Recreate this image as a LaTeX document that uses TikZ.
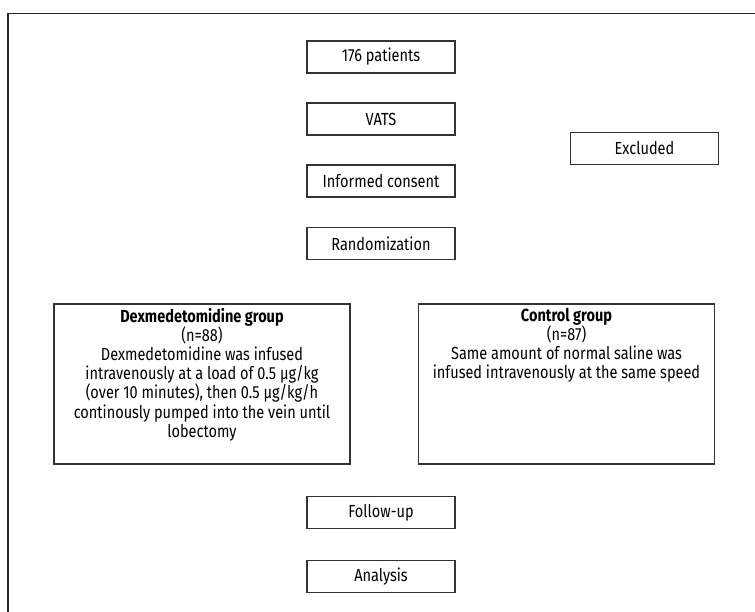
\documentclass[tikz,border=0pt]{standalone}
\usepackage{fontspec}
\setmainfont[FakeStretch=0.83]{Fira Sans}
\usepackage{tikz}
\usetikzlibrary{positioning}
\newcommand*{\grouptext}[1]{\parbox[c][152pt][t]{290pt}{\centering #1}}

\begin{document}
\begin{tikzpicture}[x=1pt,y=-1pt,
  box/.style={draw=black!80,line width=1.1pt,minimum width=148pt,
    minimum height=32pt,inner sep=0pt,font=\fontsize{17.5}{19.2}\selectfont},
  groupbox/.style={box,minimum width=296pt,minimum height=160pt}]
\useasboundingbox (0,0) rectangle (755,612);
\draw[black!85,line width=1.3pt] (8,612) -- (8,13.5) -- (755,13.5);

\node[box] (patients) at (381,57) {176 patients};
\node[box] (vats) at (381,119) {VATS};
\node[box] (consent) at (381,181) {Informed consent};
\node[box] (random) at (381,243.5) {Randomization};
\node[box] (excluded) at (644.5,148.5) {Excluded};

\node[groupbox] (dex) at (202,384) {\grouptext{\textbf{Dexmedetomidine group}\\
  (n=88)\\
  Dexmedetomidine was infused\\
  intravenously at a load of 0.5 µg/kg\\
  (over 10 minutes), then 0.5 µg/kg/h\\
  continously pumped into the vein until\\
  lobectomy}};
\node[groupbox] (control) at (566.5,384) {\grouptext{\textbf{Control group}\\
  (n=87)\\
  Same amount of normal saline was\\
  infused intravenously at the same speed}};

\node[box] (followup) at (381,512.5) {Follow-up};
\node[box] (analysis) at (381,576.5) {Analysis};
\end{tikzpicture}
\end{document}
